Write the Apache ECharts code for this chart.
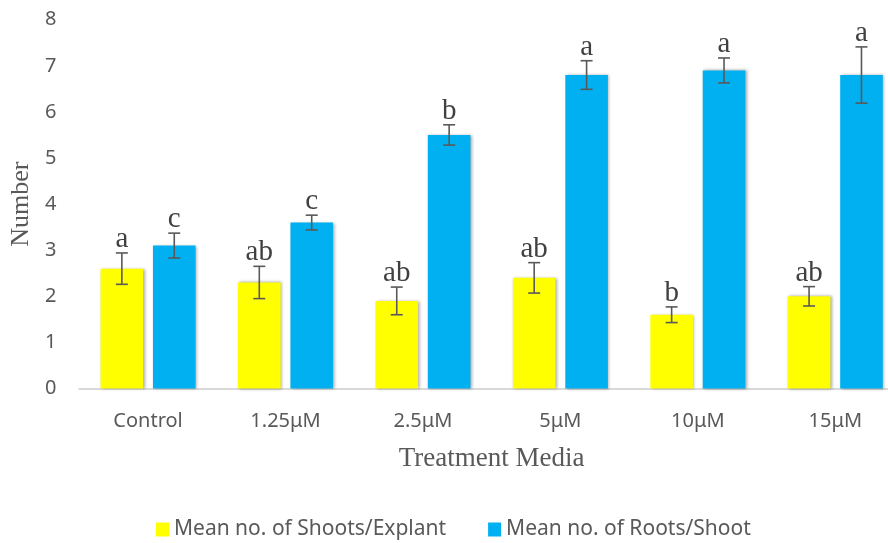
<!DOCTYPE html>
<html>
<head>
<meta charset="utf-8">
<script src="https://cdn.jsdelivr.net/npm/echarts@6/dist/echarts.min.js"></script>
<style>
  html, body { margin: 0; padding: 0; background: #fff; overflow: hidden; width: 888px; height: 543px; }
  /* the plot runs slightly past the right edge of the page */
  #chart { width: 904px; height: 543px; }
</style>
</head>
<body>
<div id="chart"></div>
<script>
// Treatment groups
const categories = ['Control', '1.25μM', '2.5μM', '5μM', '10μM', '15μM'];

// Mean no. of shoots per explant, with standard error and significance letters
const shoots = [2.6, 2.3, 1.9, 2.4, 1.6, 2.0];
const shootsErr = [0.34, 0.35, 0.30, 0.33, 0.17, 0.21];
const shootsLetters = ['a', 'ab', 'ab', 'ab', 'b', 'ab'];

// Mean no. of roots per shoot, with standard error and significance letters
const roots = [3.1, 3.6, 5.5, 6.8, 6.9, 6.8];
const rootsErr = [0.27, 0.16, 0.22, 0.31, 0.27, 0.61];
const rootsLetters = ['c', 'c', 'b', 'a', 'a', 'a'];

// Value axis range
const yMin = 0, yMax = 8, yStep = 1;

const BAR_W = 0.31;   // fraction of band width
const BAR_GAP = 0.23; // fraction of bar width
const textGrey = '#595959';
const serif = '"Liberation Serif", "DejaVu Serif", serif';
const sans = '"Noto Sans", "Open Sans", sans-serif';

function errorSeries(name, means, errs, letters, side) {
  return {
    type: 'custom',
    name: name + ' error',
    z: 5,
    silent: true,
    data: means.map((m, i) => [i, m, errs[i], i]),
    renderItem: function (params, api) {
      const i = api.value(0);
      const mean = api.value(1);
      const err = api.value(2);
      const band = api.size([1, 0])[0];
      const offset = side * band * BAR_W * (1 + BAR_GAP) / 2;
      const top = api.coord([i, mean + err]);
      const bot = api.coord([i, mean - err]);
      const x = top[0] + offset;
      const cap = 6;
      const style = { stroke: '#595959', lineWidth: 1.6 };
      return {
        type: 'group',
        children: [
          { type: 'line', shape: { x1: x, y1: top[1], x2: x, y2: bot[1] }, style: style },
          { type: 'line', shape: { x1: x - cap, y1: top[1], x2: x + cap, y2: top[1] }, style: style },
          { type: 'line', shape: { x1: x - cap, y1: bot[1], x2: x + cap, y2: bot[1] }, style: style },
          {
            type: 'text',
            style: {
              text: letters[i],
              x: x,
              y: top[1] + 1,
              align: 'center',
              verticalAlign: 'bottom',
              fontFamily: serif,
              fontSize: 29,
              fill: '#404040'
            }
          }
        ]
      };
    }
  };
}

const chart = echarts.init(document.getElementById('chart'), null, { renderer: 'canvas' });

const barShadow = {
  shadowColor: 'rgba(0,0,0,0.35)',
  shadowBlur: 3,
  shadowOffsetX: 1.5,
  shadowOffsetY: 0
};

chart.setOption({
  animation: false,
  backgroundColor: '#ffffff',
  grid: { left: 78, top: 19.7, right: 0, height: 368.8, containLabel: false },
  legend: {
    top: 514,
    left: 151,
    icon: 'rect',
    itemWidth: 13,
    itemHeight: 14,
    itemGap: 42,
    textStyle: { color: textGrey, fontFamily: sans, fontSize: 21 },
    data: ['Mean no. of Shoots/Explant', 'Mean no. of Roots/Shoot']
  },
  xAxis: {
    type: 'category',
    data: categories,
    name: 'Treatment Media',
    nameLocation: 'middle',
    nameGap: 57,
    nameTextStyle: { fontFamily: serif, fontSize: 27, color: textGrey },
    axisLine: { lineStyle: { color: '#d9d9d9', width: 2 } },
    axisTick: { show: false },
    axisLabel: { color: textGrey, fontFamily: sans, fontSize: 20, margin: 23 }
  },
  yAxis: {
    type: 'value',
    min: yMin,
    max: yMax,
    interval: yStep,
    name: 'Number',
    nameLocation: 'middle',
    nameGap: 42,
    nameTextStyle: { fontFamily: serif, fontSize: 26, color: textGrey },
    axisLine: { show: false },
    axisTick: { show: false },
    splitLine: { show: false },
    axisLabel: { color: textGrey, fontFamily: sans, fontSize: 20, margin: 23 }
  },
  series: [
    {
      name: 'Mean no. of Shoots/Explant',
      type: 'bar',
      data: shoots,
      barWidth: (BAR_W * 100) + '%',
      barGap: (BAR_GAP * 100) + '%',
      itemStyle: Object.assign({ color: '#FFFF00' }, barShadow)
    },
    {
      name: 'Mean no. of Roots/Shoot',
      type: 'bar',
      data: roots,
      barWidth: (BAR_W * 100) + '%',
      barGap: (BAR_GAP * 100) + '%',
      itemStyle: Object.assign({ color: '#00B0F0' }, barShadow)
    },
    errorSeries('Mean no. of Shoots/Explant', shoots, shootsErr, shootsLetters, -1),
    errorSeries('Mean no. of Roots/Shoot', roots, rootsErr, rootsLetters, 1)
  ]
});
</script>
</body>
</html>
